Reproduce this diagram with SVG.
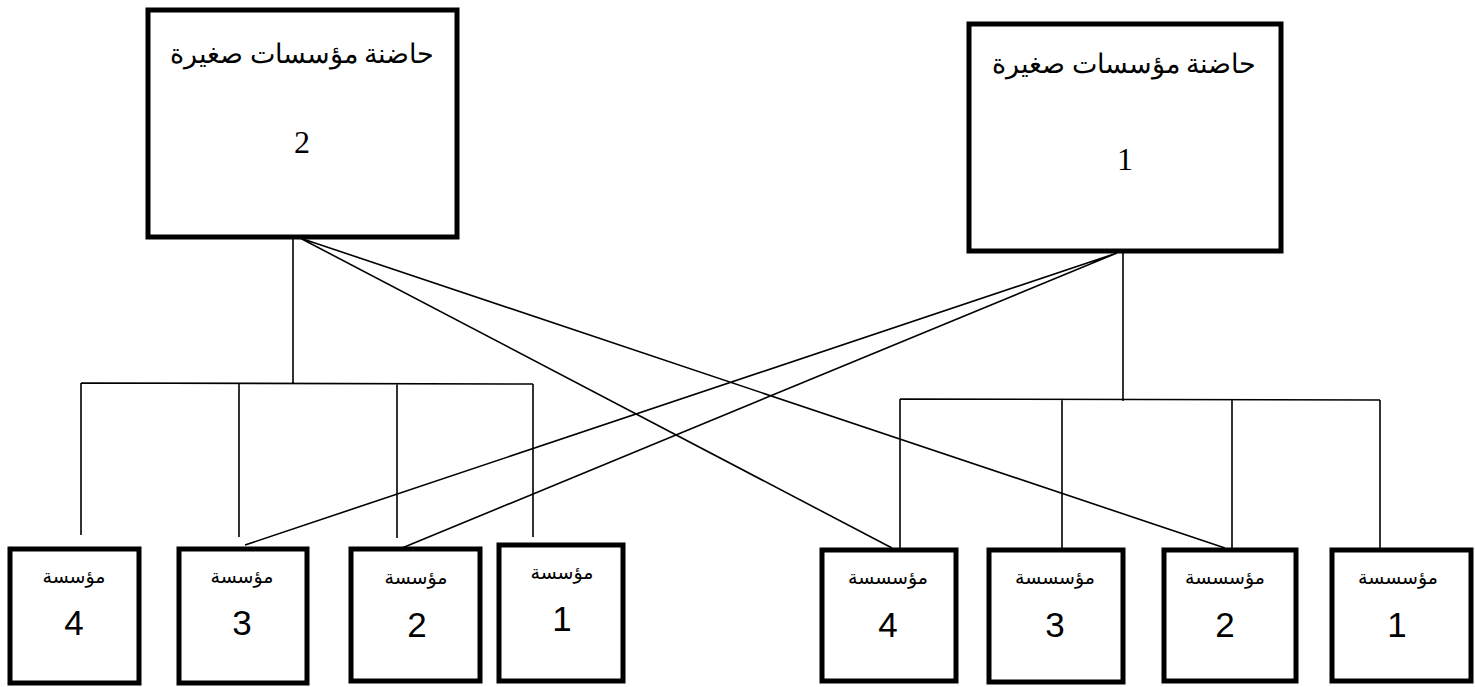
<svg xmlns="http://www.w3.org/2000/svg" width="1475" height="687" viewBox="0 0 1475 687">
<style>
.box{fill:#fff;stroke:#000;stroke-width:5}
.ln{stroke:#000;stroke-width:1.6;fill:none}
.ttl{font-family:"Liberation Serif","DejaVu Serif",serif;font-size:27px;fill:#000;text-anchor:middle}
.num{font-family:"Liberation Serif","DejaVu Serif",serif;font-size:32px;fill:#000;text-anchor:middle}
.w{font-family:"DejaVu Sans","Liberation Sans",sans-serif;font-size:19px;fill:#000;text-anchor:middle}
.d{font-family:"Liberation Sans","DejaVu Sans",sans-serif;font-size:35px;fill:#000;text-anchor:middle}
</style>
<rect width="1475" height="687" fill="#fff"/>
<g id="connectors">
<path class="ln" d="M293 238V383M81 383L533 384M81 383V535M239 383V537M397 384V538M533 384V537"/>
<path class="ln" d="M1123 253V401M900 399L1380 400M900 399V548M1062 399V548M1232 400V548M1380 400V548"/>
<path class="ln" d="M300 238L892 548M300 238L1225 548M1117 253L245 545M1117 253L402 548"/>
</g>
<g id="inc2"><rect class="box" x="148" y="10" width="309" height="227"/><text class="ttl" x="302" y="63">حاضنة مؤسسات صغيرة</text><text class="num" x="302" y="153">2</text></g>
<g id="inc1"><rect class="box" x="969" y="24" width="312" height="227"/><text class="ttl" x="1124" y="73">حاضنة مؤسسات صغيرة</text><text class="num" x="1125" y="170">1</text></g>
<g id="L4"><rect class="box" x="10" y="549" width="129" height="134"/><text class="w" x="74" y="583">مؤسسة</text><text class="d" x="74" y="635">4</text></g>
<g id="L3"><rect class="box" x="179" y="549" width="128" height="134"/><text class="w" x="242" y="583">مؤسسة</text><text class="d" x="242" y="635">3</text></g>
<g id="L2"><rect class="box" x="351" y="549" width="129" height="132"/><text class="w" x="416" y="584">مؤسسة</text><text class="d" x="417" y="637">2</text></g>
<g id="L1"><rect class="box" x="499" y="545" width="124" height="136"/><text class="w" x="562" y="579">مؤسسة</text><text class="d" x="562" y="631">1</text></g>
<g id="R4"><rect class="box" x="822" y="550" width="134" height="131"/><text class="w" x="888" y="584">مؤسسسة</text><text class="d" x="888" y="637">4</text></g>
<g id="R3"><rect class="box" x="989" y="550" width="134" height="132"/><text class="w" x="1055" y="584">مؤسسسة</text><text class="d" x="1055" y="637">3</text></g>
<g id="R2"><rect class="box" x="1164" y="550" width="132" height="131"/><text class="w" x="1225" y="584">مؤسسسة</text><text class="d" x="1225" y="637">2</text></g>
<g id="R1"><rect class="box" x="1332" y="550" width="139" height="131"/><text class="w" x="1398" y="584">مؤسسسة</text><text class="d" x="1397" y="637">1</text></g>
</svg>
